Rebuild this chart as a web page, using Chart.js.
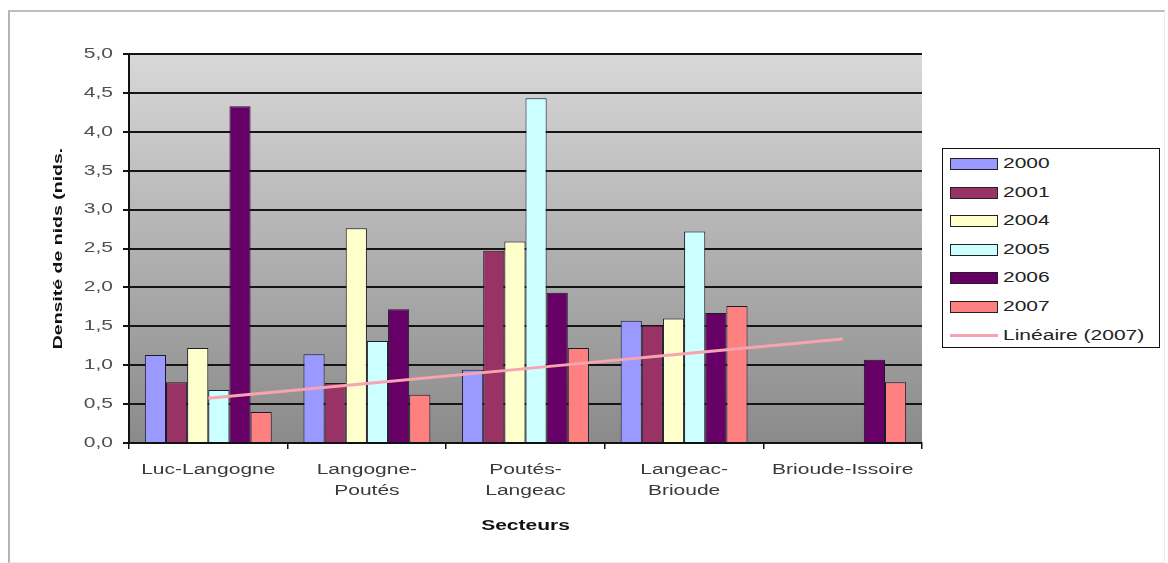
<!DOCTYPE html>
<html>
<head>
<meta charset="utf-8">
<script src="https://cdn.jsdelivr.net/npm/chart.js@4.4.1/dist/chart.umd.min.js"></script>
<style>
  html, body { margin: 0; padding: 0; background: #ffffff; }
  #wrap { position: relative; width: 1168px; height: 563px; overflow: hidden; }
  #frame {
    position: absolute; left: 8px; top: 10px; width: 1154px; height: 550px;
    border-top: 2px solid #bdbdbd; border-left: 2px solid #b5b5b5;
    border-right: 1px solid #ececec; border-bottom: 1px solid #ececec;
  }
  #c { position: absolute; left: 0; top: 0; }
  #legend {
    position: absolute; left: 942px; top: 148px; width: 218px; height: 200px;
    border: 1.5px solid #111; background: #fff;
    font-family: "Liberation Sans", Arial, sans-serif; font-size: 14px; color: #222;
    box-sizing: border-box;
  }
  .item { position: relative; height: 28.6px; }
  .sw { position: absolute; left: 7px; top: 9px; width: 46px; height: 10px; border: 1px solid #222; }
  .ln { position: absolute; left: 7px; top: 13px; width: 48px; height: 3px; }
  .lab { position: absolute; left: 60px; top: 6px; white-space: nowrap; line-height: 17px;
         transform: scaleX(1.5); transform-origin: 0 50%; }
</style>
</head>
<body>
<div id="wrap">
  <div id="frame"></div>
  <canvas id="c" width="1168" height="563"></canvas>
  <div id="legend"></div>
</div>
<script>
// Sectors along the river
const categories = ['Luc-Langogne', ['Langogne-', 'Poutés'], ['Poutés-', 'Langeac'], ['Langeac-', 'Brioude'], 'Brioude-Issoire'];

// Nest density per sector and year
const years = ['2000', '2001', '2004', '2005', '2006', '2007'];
const d2000 = [1.13, 1.14, 0.94, 1.57, null];
const d2001 = [0.78, 0.77, 2.47, 1.51, null];
const d2004 = [1.22, 2.76, 2.59, 1.60, null];
const d2005 = [0.68, 1.31, 4.43, 2.72, null];
const d2006 = [4.33, 1.72, 1.93, 1.67, 1.07];
const d2007 = [0.40, 0.62, 1.22, 1.76, 0.78];

const yTickLabels = ['0,0', '0,5', '1,0', '1,5', '2,0', '2,5', '3,0', '3,5', '4,0', '4,5', '5,0'];

const seriesValues = [d2000, d2001, d2004, d2005, d2006, d2007];
const seriesColors = ['#9999ff', '#993366', '#ffffcc', '#ccffff', '#660066', '#ff8080'];
const trendColor = '#f7a3b0';

// Least-squares linear trend of the 2007 series over the sector index
function linearTrend(vals) {
  const n = vals.length;
  const xs = vals.map((_, i) => i + 1);
  const mx = xs.reduce((a, b) => a + b, 0) / n;
  const my = vals.reduce((a, b) => a + b, 0) / n;
  let num = 0, den = 0;
  for (let i = 0; i < n; i++) { num += (xs[i] - mx) * (vals[i] - my); den += (xs[i] - mx) ** 2; }
  const slope = num / den;
  return xs.map(x => my + slope * (x - mx));
}
const trend2007 = linearTrend(d2007);

const datasets = years.map((y, i) => ({
  type: 'bar',
  label: y,
  data: seriesValues[i],
  backgroundColor: seriesColors[i],
  borderColor: '#1a1a2a',
  borderWidth: 1,
  order: 1
}));
datasets.push({
  type: 'line',
  label: 'Linéaire (2007)',
  data: trend2007,
  borderColor: trendColor,
  borderWidth: 3,
  pointRadius: 0,
  fill: false,
  tension: 0,
  order: 0
});

// Wide lettering: every canvas text is stretched along its own baseline
const TEXT_STRETCH = 1.5;
const canvas = document.getElementById('c');
const ctx = canvas.getContext('2d');
const nativeFill = CanvasRenderingContext2D.prototype.fillText;
const nativeMeasure = CanvasRenderingContext2D.prototype.measureText;
ctx.fillText = function (text, x, y, maxWidth) {
  this.save();
  this.translate(x, y);
  this.scale(TEXT_STRETCH, 1);
  if (maxWidth === undefined) nativeFill.call(this, text, 0, 0);
  else nativeFill.call(this, text, 0, 0, maxWidth / TEXT_STRETCH);
  this.restore();
};
ctx.measureText = function (text) {
  const m = nativeMeasure.call(this, text);
  return {
    width: m.width * TEXT_STRETCH,
    actualBoundingBoxLeft: m.actualBoundingBoxLeft * TEXT_STRETCH,
    actualBoundingBoxRight: m.actualBoundingBoxRight * TEXT_STRETCH,
    actualBoundingBoxAscent: m.actualBoundingBoxAscent,
    actualBoundingBoxDescent: m.actualBoundingBoxDescent,
    fontBoundingBoxAscent: m.fontBoundingBoxAscent,
    fontBoundingBoxDescent: m.fontBoundingBoxDescent
  };
};

// Grey gradient behind the plot area
const plotBackground = {
  id: 'plotBackground',
  beforeDraw(chart) {
    const { ctx, chartArea: a } = chart;
    const g = ctx.createLinearGradient(0, a.top, 0, a.bottom);
    g.addColorStop(0, '#d8d8d8');
    g.addColorStop(1, '#8a8a8a');
    ctx.save();
    ctx.fillStyle = g;
    ctx.fillRect(a.left, a.top, a.right - a.left, a.bottom - a.top);
    ctx.restore();
  }
};

const font = '"Liberation Sans", Arial, sans-serif';

const chart = new Chart(ctx, {
  data: { labels: categories, datasets },
  plugins: [plotBackground],
  options: {
    responsive: false,
    animation: false,
    layout: { padding: { left: 47, right: 246, top: 54, bottom: 24 } },
    plugins: { legend: { display: false }, tooltip: { enabled: false } },
    datasets: { bar: { categoryPercentage: 0.8, barPercentage: 1.0 } },
    scales: {
      x: {
        offset: true,
        grid: { offset: true, drawOnChartArea: false, drawTicks: true, tickLength: 6, color: '#111', lineWidth: 1.5 },
        border: { display: true, color: '#111', width: 2 },
        ticks: { color: '#3a3a3a', font: { family: font, size: 14, lineHeight: 1.55 }, padding: 10, maxRotation: 0, autoSkip: false },
        title: { display: true, text: 'Secteurs', color: '#111', font: { family: font, size: 14, weight: 'bold' }, padding: { top: 0, bottom: 4 } },
        afterFit(s) { s.height = 96; }
      },
      y: {
        min: 0, max: 5,
        ticks: {
          stepSize: 0.5, color: '#505050', padding: 10,
          font: { family: font, size: 14 },
          callback: (v, i) => yTickLabels[i]
        },
        grid: { color: '#151515', lineWidth: 2, tickLength: 6, drawTicks: true },
        border: { display: true, color: '#111', width: 2 },
        title: { display: true, text: 'Densité de nids (nids.', color: '#111', font: { family: font, size: 13, weight: 'bold' }, padding: 4 },
        afterFit(s) { s.width = 82; }
      }
    }
  }
});

// Legend box built from the chart's datasets
const legend = document.getElementById('legend');
chart.data.datasets.forEach(ds => {
  const item = document.createElement('div');
  item.className = 'item';
  const sw = document.createElement('div');
  if (ds.type === 'line') {
    sw.className = 'ln';
    sw.style.background = ds.borderColor;
  } else {
    sw.className = 'sw';
    sw.style.background = ds.backgroundColor;
  }
  const lab = document.createElement('div');
  lab.className = 'lab';
  lab.textContent = ds.label;
  item.appendChild(sw);
  item.appendChild(lab);
  legend.appendChild(item);
});
</script>
</body>
</html>
